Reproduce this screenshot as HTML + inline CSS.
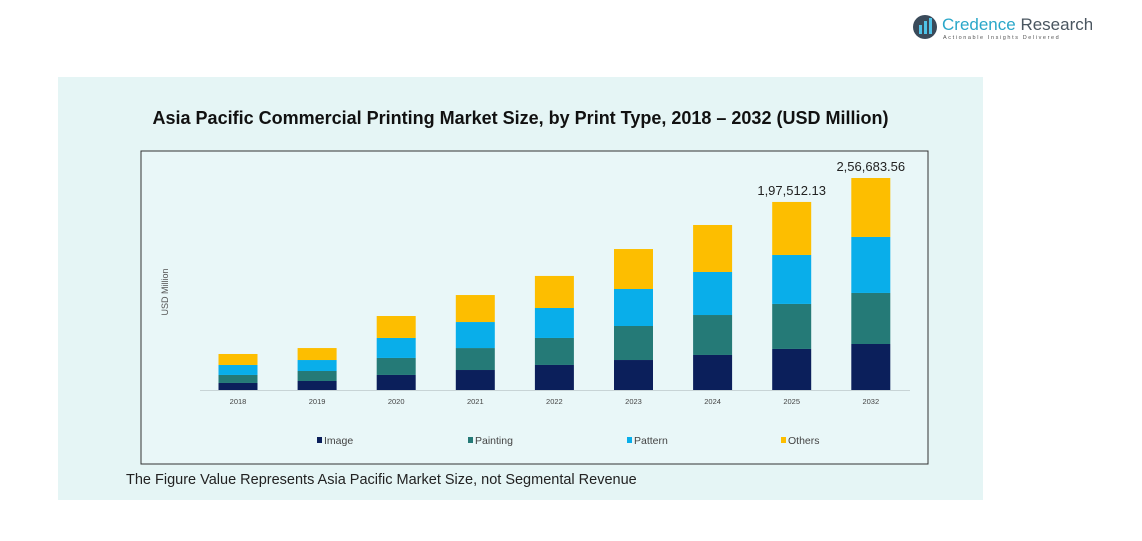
<!DOCTYPE html>
<html><head><meta charset="utf-8"><style>
body{margin:0;width:1142px;height:541px;background:#fff;position:relative;font-family:"Liberation Sans",sans-serif;overflow:hidden}
#panel{position:absolute;left:58px;top:77px;width:925px;height:423px;background:#e5f5f5}
#title{position:absolute;left:58px;width:925px;top:108px;text-align:center;font-weight:bold;font-size:18px;color:#111}
#note{position:absolute;left:126px;top:472px;font-size:14.5px;color:#222}
#logo{position:absolute;left:912px;top:12px}
</style></head><body>
<div id="panel"></div>
<div id="title">Asia Pacific Commercial Printing Market Size, by Print Type, 2018 – 2032 (USD Million)</div>
<div id="logo">
<svg width="180" height="32"><circle cx="13" cy="15" r="12" fill="#3a4a5a"/><rect x="7" y="13" width="3" height="9" fill="#4fc3e8"/><rect x="12" y="9" width="3" height="13" fill="#4fc3e8"/><rect x="17" y="6" width="3" height="16" fill="#4fc3e8"/>
<text x="30" y="18" font-size="17" fill="#2aa7c9" font-family="Liberation Sans">Credence <tspan fill="#4a5660">Research</tspan></text>
<text x="31" y="27" font-size="5.5" fill="#555" letter-spacing="1.6" font-family="Liberation Sans">Actionable Insights Delivered</text></svg></div>
<svg id="chart" width="1142" height="541" style="position:absolute;left:0;top:0"></svg>
<div id="note">The Figure Value Represents Asia Pacific Market Size, not Segmental Revenue</div>
<script>
const years=["2018","2019","2020","2021","2022","2023","2024","2025","2032"];
const image=[8500,10900,18200,24200,30300,36300,42400,49700,55700];
const painting=[9700,12100,20600,26600,32700,41200,48400,54500,61800];
const pattern=[12100,13300,24200,31500,36300,44800,52100,59300,67800];
const others=[13300,14500,26600,32700,38800,48400,56900,64200,71400];
const topLabels=["","","","","","","","1,97,512.13","2,56,683.56"];
const seriesNames=["Image","Painting","Pattern","Others"];
const colors=["#0b1f5b","#257a77","#09aeea","#fdbe00"];
const NS="http://www.w3.org/2000/svg";
const svg=document.getElementById('chart');
const baseY=390,pxPer=212/256700;
const y=v=>v*pxPer;
const x=i=>238+i*79.1;
function mk(t,a){const e=document.createElementNS(NS,t);for(const k in a)e.setAttribute(k,a[k]);svg.appendChild(e);return e;}
const box=mk('rect',{x:141,y:151,width:787,height:313,fill:'#e9f7f8',stroke:'#333','stroke-width':1});


const ax=mk('line',{x1:200,x2:910,y1:baseY+0.5,y2:baseY+0.5,stroke:'#c8d4d6'});


const yt=mk('text',{x:0,y:0,transform:'translate(168,292) rotate(-90)','text-anchor':'middle','font-size':9,fill:'#555'});
yt.textContent='USD Million';


const series=[image,painting,pattern,others];
years.forEach((yr,i)=>{
 let acc=0;
 series.forEach((s,k)=>{
  const h=y(s[i]);acc+=h;
  const r=mk('rect',{x:x(i)-19.5,y:baseY-acc,width:39,height:h,fill:colors[k]});
  
  
 });
 const t=mk('text',{x:x(i),y:404,'text-anchor':'middle','font-size':7.5,fill:'#444'});
 t.textContent=yr;
 
 
 if(topLabels[i]){
  const l=mk('text',{x:x(i),y:baseY-acc-7,'text-anchor':'middle','font-size':13,fill:'#222','font-family':'Liberation Sans Narrow, Liberation Sans, sans-serif'});
  l.textContent=topLabels[i];
  
  
 }
});
const lx=[317,468,627,781];
seriesNames.forEach((n,k)=>{
 const m=mk('rect',{x:lx[k],y:437,width:5,height:6,fill:colors[k]});
 
 
 const t=mk('text',{x:lx[k]+7,y:444,'font-size':10.5,fill:'#444'});
 t.textContent=n;
 
 
});
</script>
</body></html>
